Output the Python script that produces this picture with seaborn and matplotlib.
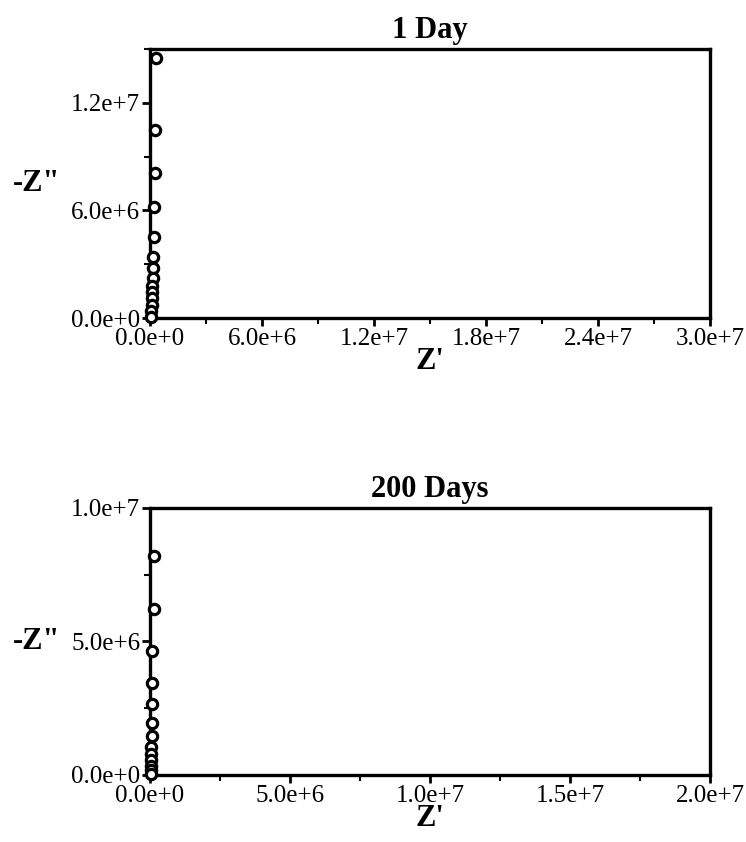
import matplotlib
matplotlib.use("Agg")
import math
import matplotlib.pyplot as plt
import seaborn as sns
import pandas as pd
from matplotlib.ticker import MultipleLocator, FuncFormatter

sns.set_style("ticks")
plt.rcParams['font.family'] = ['Liberation Serif', 'DejaVu Serif']
plt.rcParams['text.color'] = 'black'
plt.rcParams['axes.labelcolor'] = 'black'
plt.rcParams['xtick.color'] = 'black'
plt.rcParams['ytick.color'] = 'black'

# 1 Day data
day1_zreal = [3.0e5, 2.8e5, 2.6e5, 2.3e5, 2.2e5, 1.8e5, 1.6e5, 1.5e5, 1.3e5, 1.2e5, 1.1e5, 1.0e5, 0.8e5, 0.5e5]
day1_zimag = [14.5e6, 10.5e6, 8.1e6, 6.2e6, 4.5e6, 3.4e6, 2.8e6, 2.25e6, 1.8e6, 1.45e6, 1.1e6, 0.75e6, 0.4e6, 0.08e6]

# 200 Days data
day200_zreal = [1.6e5, 1.5e5, 0.9e5, 0.8e5, 0.7e5, 0.6e5, 0.6e5, 0.5e5, 0.5e5, 0.4e5, 0.4e5, 0.3e5, 0.2e5]
day200_zimag = [8.2e6, 6.2e6, 4.65e6, 3.45e6, 2.65e6, 1.95e6, 1.45e6, 1.05e6, 0.8e6, 0.55e6, 0.35e6, 0.17e6, 0.03e6]

titles = ["1 Day", "200 Days"]
x_limits = [3.0e7, 2.0e7]
y_limits = [1.5e7, 1.0e7]
x_major = [6.0e6, 5.0e6]
y_major = [6.0e6, 5.0e6]


def sci_fmt(v, pos):
    if v == 0:
        return "0.0e+0"
    e = int(math.floor(math.log10(abs(v)) + 1e-9))
    m = v / 10 ** e
    return f"{m:.1f}e+{e}"


fig = plt.figure(figsize=(7.46, 8.42), dpi=100)
ax_top = fig.add_axes([0.201, 0.6223, 0.751, 0.3195])
ax_bot = fig.add_axes([0.201, 0.0796, 0.751, 0.3171])

datasets = [
    pd.DataFrame({"Z'": day1_zreal, "-Z\"": day1_zimag}),
    pd.DataFrame({"Z'": day200_zreal, "-Z\"": day200_zimag}),
]

for i, (ax, df) in enumerate(zip([ax_top, ax_bot], datasets)):
    sns.scatterplot(data=df, x="Z'", y="-Z\"", ax=ax, marker="o", s=55,
                    facecolor="white", edgecolor="black", linewidth=2.3,
                    clip_on=False, zorder=5, legend=False)
    ax.set_xlim(0, x_limits[i])
    ax.set_ylim(0, y_limits[i])
    ax.xaxis.set_major_locator(MultipleLocator(x_major[i]))
    ax.xaxis.set_minor_locator(MultipleLocator(x_major[i] / 2))
    ax.yaxis.set_major_locator(MultipleLocator(y_major[i]))
    ax.yaxis.set_minor_locator(MultipleLocator(y_major[i] / 2))
    ax.xaxis.set_major_formatter(FuncFormatter(sci_fmt))
    ax.yaxis.set_major_formatter(FuncFormatter(sci_fmt))
    for sp in ax.spines.values():
        sp.set_visible(True)
        sp.set_linewidth(2.4)
        sp.set_color("black")
    ax.tick_params(axis="both", which="major", direction="out", length=6, width=2,
                   labelsize=18, colors="black", pad=1)
    ax.tick_params(axis="both", which="minor", direction="out", length=4, width=1.5)
    ax.set_title(titles[i], fontsize=22, fontweight="bold", pad=8, color="black")
    ax.set_xlabel("Z'", fontsize=22, fontweight="bold", labelpad=-2, color="black")
    ax.set_ylabel("-Z\"", fontsize=22, fontweight="bold", rotation=0,
                  ha="right", va="center", color="black")
    ax.yaxis.set_label_coords(-0.16, 0.5)

fig.savefig("out.png", dpi=100, facecolor="white")
